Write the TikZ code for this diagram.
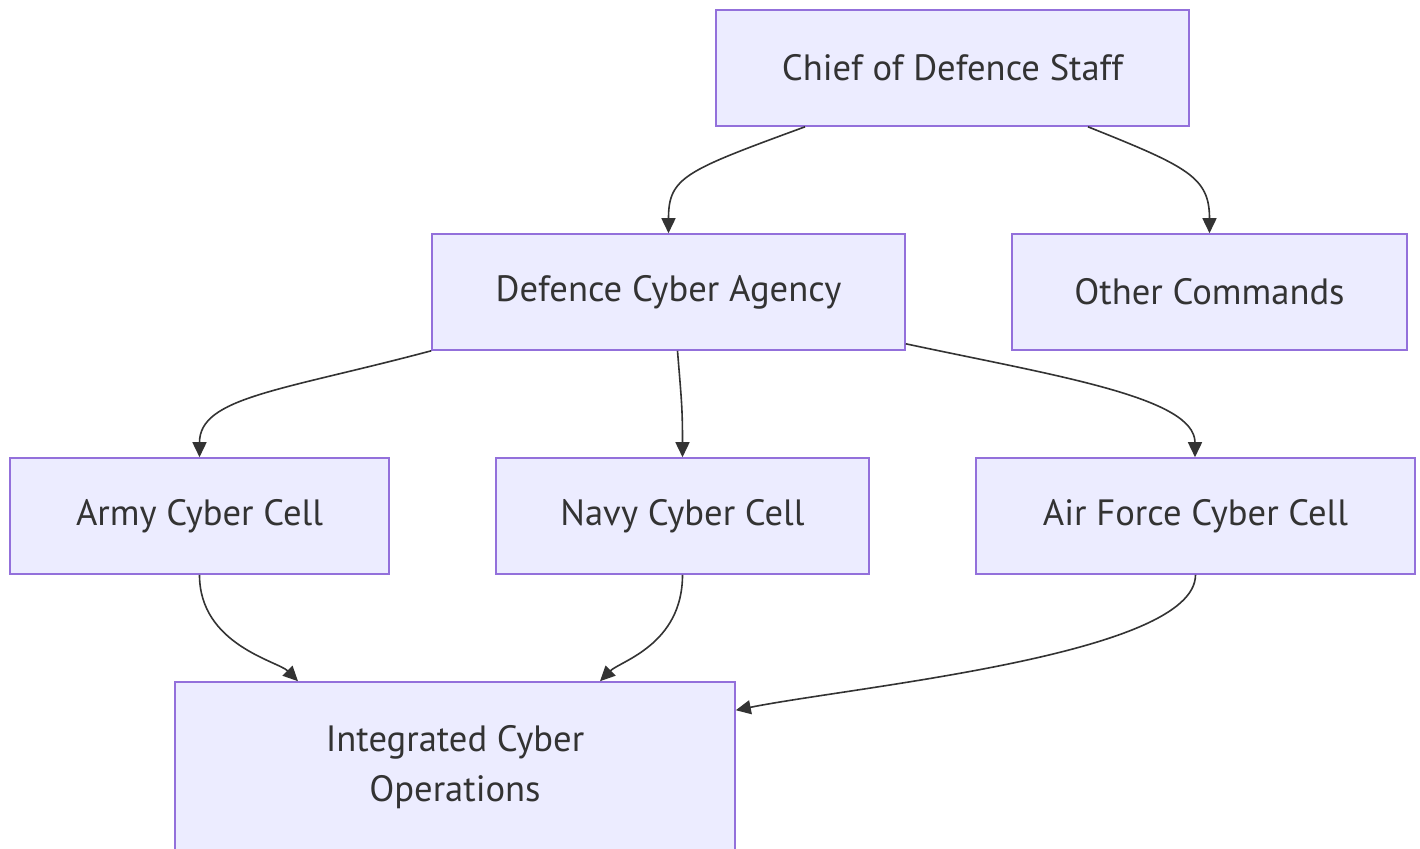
\documentclass[tikz,border=0pt]{standalone}
\usepackage{fontspec}
\setmainfont{PT Sans}
\usetikzlibrary{arrows.meta,calc}
\definecolor{boxfill}{HTML}{ECECFF}
\definecolor{boxline}{HTML}{9370DB}
\definecolor{txt}{HTML}{333333}
\definecolor{edge}{HTML}{333333}
\tikzset{
  box/.style={draw=boxline, fill=boxfill, line width=0.8pt, text=txt,
    font=\fontsize{18.3pt}{25pt}\selectfont, align=center, inner sep=0pt,
    minimum height=58pt},
  link/.style={draw=edge, line width=0.8pt, -{Triangle[length=7.5pt,width=7pt]}}
}
\begin{document}
\begin{tikzpicture}[x=0.5pt,y=-0.5pt]
\useasboundingbox[fill=white] (0,0) rectangle (1420,848);
\node[box, minimum width=236.5pt] (chief) at (952.5,68) {Chief of Defence Staff};
\node[box, minimum width=236.5pt] (dca) at (668.5,292) {Defence Cyber Agency};
\node[box, minimum width=197.5pt] (other) at (1209.5,292) {Other Commands};
\node[box, minimum width=189.5pt] (army) at (199.5,516) {Army Cyber Cell};
\node[box, minimum width=186.5pt] (navy) at (682.5,516) {Navy Cyber Cell};
\node[box, minimum width=219.5pt] (air) at (1195.5,516) {Air Force Cyber Cell};
\node[box, minimum width=280pt, minimum height=85pt] (ico) at (455,767) {Integrated Cyber\\Operations};

\draw[link] ([xshift=-73.75pt]chief.south) .. controls +(-60pt,-22pt) and +(0,28pt) .. (dca.north);
\draw[link] ([xshift=67.75pt]chief.south) .. controls +(50pt,-20pt) and +(0,28pt) .. (other.north);
\draw[link] (dca.south west) .. controls +(-75pt,-20pt) and +(0,30pt) .. (army.north);
\draw[link] ([xshift=4.5pt]dca.south) .. controls +(2pt,-25pt) and +(0,25pt) .. (navy.north);
\draw[link] ([yshift=3.5pt]dca.south east) .. controls +(75pt,-16pt) and +(0,30pt) .. ([xshift=-0.25pt]air.north);
\draw[link] (army.south) .. controls +(0,-35pt) and +(-10pt,10pt) .. ([xshift=-78.5pt]ico.north);
\draw[link] (navy.south) .. controls +(0,-35pt) and +(10pt,10pt) .. ([xshift=72.5pt]ico.north);
\draw[link] (air.south) .. controls +(0,-40pt) and +(60pt,12pt) .. ([yshift=-14.5pt]ico.north east);
\end{tikzpicture}
\end{document}
